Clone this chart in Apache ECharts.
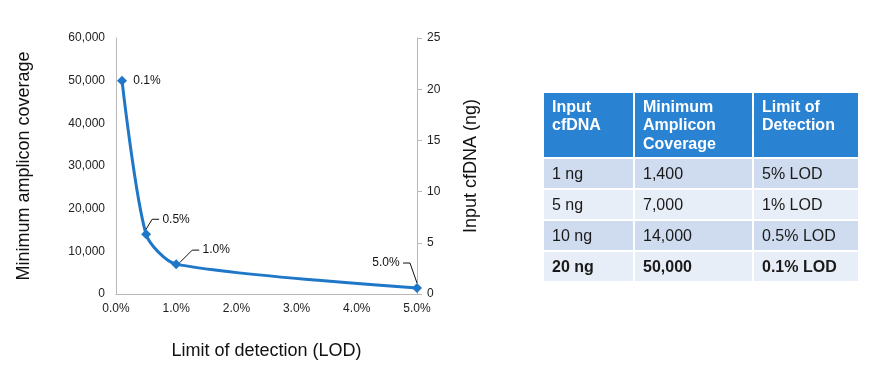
<!DOCTYPE html>
<html>
<head>
<meta charset="utf-8">
<script src="https://cdn.jsdelivr.net/npm/echarts@6/dist/echarts.min.js"></script>
<style>html,body{margin:0;padding:0;background:#fff;}#c{width:870px;height:380px;}</style>
</head>
<body>
<div id="c"></div>
<script>
// ---- data ----
const lodPercent = [0.1, 0.5, 1.0, 5.0];
const coverage = [50000, 14000, 7000, 1400];
const pointLabels = ['0.1%', '0.5%', '1.0%', '5.0%'];
const tableHeader = ['Input\ncfDNA', 'Minimum\nAmplicon\nCoverage', 'Limit of\nDetection'];
const tableInput = ['1 ng', '5 ng', '10 ng', '20 ng'];
const tableCoverage = ['1,400', '7,000', '14,000', '50,000'];
const tableLod = ['5% LOD', '1% LOD', '0.5% LOD', '0.1% LOD'];
const boldRows = [false, false, false, true];

const FONT = "'Liberation Sans', Arial, Helvetica, sans-serif";
const chart = echarts.init(document.getElementById('c'), null, {renderer: 'canvas'});

// label offsets relative to symbol centre (layout only)
const labelOffsets = [
  {dx: 8, dy: 0, align: 'left'},
  {dx: 13, dy: -15, align: 'left'},
  {dx: 23, dy: -14, align: 'left'},
  {dx: -14, dy: -25, align: 'right'}
];

const seriesData = lodPercent.map((x, i) => ({
  value: [x, coverage[i]],
  label: {formatter: labelOffsets[i].align === 'left' ? ' ' + pointLabels[i] : pointLabels[i] + ' '},
  labelLine: {show: i !== 0}
}));

// ---- table built as graphics ----
const tblLeft = 544, tblTop = 93;
const colW = [89, 117, 104], gap = 2;
const headH = 64, rowH = 29;
const colX = [];
{ let x = tblLeft; colW.forEach(w => { colX.push(x); x += w + gap; }); }
const graphics = [];
tableHeader.forEach((h, c) => {
  graphics.push({type: 'rect', shape: {x: colX[c], y: tblTop, width: colW[c], height: headH},
    style: {fill: '#2a82d2'}, silent: true});
  graphics.push({type: 'text', x: colX[c] + 8, y: tblTop + 5,
    style: {text: h, fill: '#ffffff', font: 'bold 16px ' + FONT, lineHeight: 18.5,
      textAlign: 'left', textVerticalAlign: 'top'}, silent: true});
});
const bodyCols = [tableInput, tableCoverage, tableLod];
tableInput.forEach((_, r) => {
  const y = tblTop + headH + gap + r * (rowH + gap);
  bodyCols.forEach((col, c) => {
    graphics.push({type: 'rect', shape: {x: colX[c], y: y, width: colW[c], height: rowH},
      style: {fill: r % 2 === 0 ? '#cfdbee' : '#e8eef7'}, silent: true});
    graphics.push({type: 'text', x: colX[c] + 8, y: y + rowH / 2 + 1,
      style: {text: col[r], fill: '#1a1a1a', font: (boldRows[r] ? 'bold ' : '') + '16px ' + FONT,
        textAlign: 'left', textVerticalAlign: 'middle'}, silent: true});
  });
});

const option = {
  animation: false,
  backgroundColor: '#ffffff',
  textStyle: {fontFamily: FONT},
  grid: {left: 116, right: 453, top: 38, bottom: 86, containLabel: false},
  xAxis: {
    type: 'value', min: 0, max: 5, interval: 1,
    name: 'Limit of detection (LOD)', nameLocation: 'middle', nameGap: 48,
    nameTextStyle: {fontSize: 18, color: '#111', fontFamily: FONT},
    axisLine: {show: true, onZero: false, lineStyle: {color: '#b8b8b8', width: 1}},
    axisTick: {show: false},
    splitLine: {show: false},
    axisLabel: {fontSize: 12, color: '#222', margin: 9, fontFamily: FONT,
      formatter: v => v.toFixed(1) + '%'}
  },
  yAxis: [
    {
      type: 'value', min: 0, max: 60000, interval: 10000, position: 'left',
      name: 'Minimum amplicon coverage', nameLocation: 'middle', nameGap: 83,
      nameTextStyle: {fontSize: 18, color: '#111', fontFamily: FONT},
      axisLine: {show: true, lineStyle: {color: '#b8b8b8', width: 1}},
      axisTick: {show: false},
      splitLine: {show: false},
      axisLabel: {fontSize: 12, color: '#222', margin: 11, fontFamily: FONT,
        formatter: v => v.toLocaleString('en-US')}
    },
    {
      type: 'value', min: 0, max: 25, interval: 5, position: 'right',
      name: 'Input cfDNA (ng)', nameLocation: 'middle', nameGap: 45, nameRotate: 90,
      nameTextStyle: {fontSize: 18, color: '#111', fontFamily: FONT},
      axisLine: {show: true, lineStyle: {color: '#b8b8b8', width: 1}},
      axisTick: {show: true, length: 5, lineStyle: {color: '#b8b8b8'}},
      splitLine: {show: false},
      axisLabel: {fontSize: 12, color: '#222', margin: 10, fontFamily: FONT}
    }
  ],
  series: [{
    type: 'line',
    yAxisIndex: 0,
    data: seriesData,
    smooth: 0.25,
    symbol: 'diamond',
    symbolSize: 10,
    lineStyle: {color: '#1f77c8', width: 3},
    itemStyle: {color: '#1f77c8'},
    label: {show: true, position: 'right', fontSize: 12, color: '#111', fontFamily: FONT},
    labelLine: {show: true, length2: 7, lineStyle: {color: '#111', width: 1}},
    labelLayout: function (p) {
      const o = labelOffsets[p.dataIndex];
      const cx = p.rect.x + p.rect.width / 2;
      const cy = p.rect.y + p.rect.height / 2;
      return {x: cx + o.dx, y: cy + o.dy, align: o.align, verticalAlign: 'middle'};
    }
  }],
  graphic: graphics
};
chart.setOption(option);
</script>
</body>
</html>
